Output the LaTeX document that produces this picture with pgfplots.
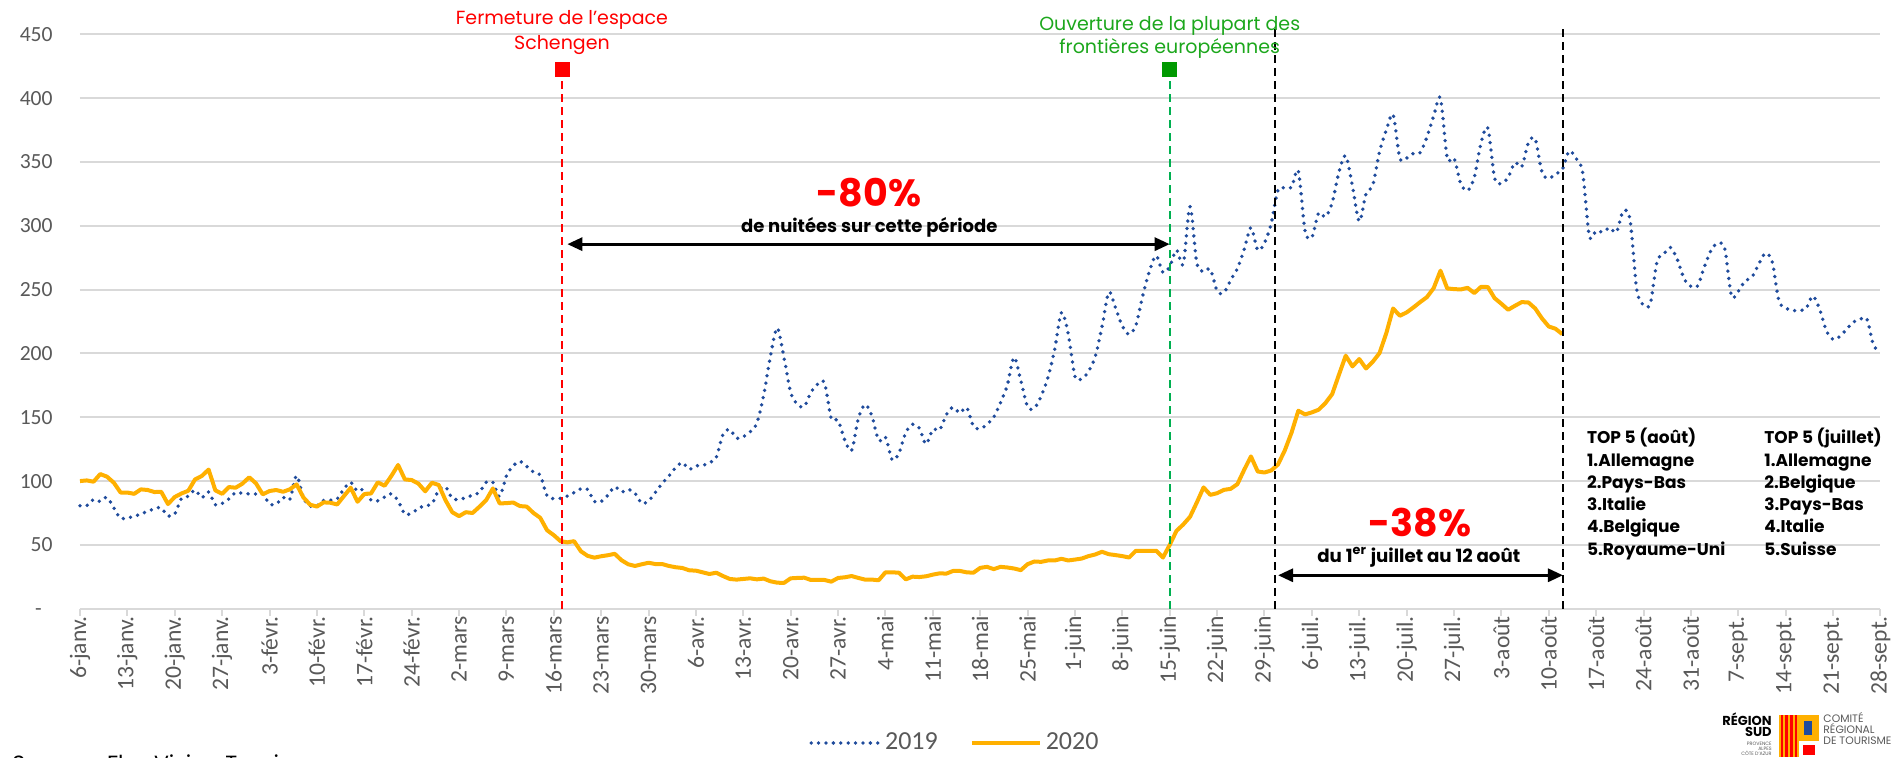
\documentclass[border=0pt]{standalone}
\usepackage{pgfplots}
\pgfplotsset{compat=1.18}
\usepackage{fontspec}
\setmainfont{Carlito}
\newfontfamily\anno{Poppins}
\usetikzlibrary{arrows.meta}
\definecolor{blue19}{HTML}{1F4B9C}
\definecolor{orange20}{HTML}{FFB000}
\definecolor{gridc}{HTML}{D9D9D9}
\definecolor{tickc}{HTML}{595959}
\definecolor{redA}{HTML}{FF0000}
\definecolor{greenT}{HTML}{1CA71C}
\definecolor{greenS}{HTML}{009900}
\definecolor{greenL}{HTML}{00B050}
\tikzset{topf/.style={anchor=base west, inner sep=0pt, font=\anno\bfseries\fontsize{8.5}{10}\selectfont}}
\begin{document}
\begin{tikzpicture}
\begin{axis}[
  at={(40pt,74.15pt)}, anchor=south west,
  scale only axis, width=900.2pt, height=287.2pt,
  xmin=0, xmax=266, ymin=0, ymax=450,
  clip=false,
  axis x line*=bottom, axis y line*=left,
  x axis line style={draw=gridc, line width=1pt},
  y axis line style={draw=none},
  ymajorgrids, grid style={draw=gridc, line width=1pt},
  tick align=outside, major tick length=3.5pt,
  xtick style={draw=gridc, line width=1pt},
  ytick style={draw=none},
  ytick={0,50,...,450},
  yticklabels={-\phantom{0},50,100,150,200,250,300,350,400,450},
  yticklabel style={font=\fontsize{10.8}{12}\selectfont, text=tickc, anchor=east, inner sep=0pt, xshift=-10pt},
  xtick={0,7,...,266},
  xticklabels={6-janv.,13-janv.,20-janv.,27-janv.,3-févr.,10-févr.,17-févr.,24-févr.,2-mars,9-mars,16-mars,23-mars,30-mars,6-avr.,13-avr.,20-avr.,27-avr.,4-mai,11-mai,18-mai,25-mai,1-juin,8-juin,15-juin,22-juin,29-juin,6-juil.,13-juil.,20-juil.,27-juil.,3-août,10-août,17-août,24-août,31-août,7-sept.,14-sept.,21-sept.,28-sept.},
  xticklabel style={font=\fontsize{11.8}{12}\selectfont, text=tickc, rotate=90, anchor=east, inner sep=0pt, yshift=0pt},
  legend style={at={(0.4865,-0.2338)}, anchor=center, draw=none, fill=none, legend columns=2,
    font=\fontsize{13}{15}\selectfont, text=tickc,
    /tikz/every even column/.append style={column sep=14pt}},
  legend image code/.code={\draw[#1] (0pt,0pt) -- (34pt,0pt);},
]
\addplot[blue19, line width=1.9pt, line cap=round, dash pattern=on 0pt off 3.7pt, smooth] coordinates {
(0,80.7)(1,80.7)(2,85.6)(3,84)(4,87.2)(5,79)(6,70.7)(7,71.5)(8,72)(9,74.5)(10,76)(11,78.5)(12,79)(13,72.6)(14,74.2)(15,86.5)(16,88)(17,93)(18,87)(19,91.5)(20,81.5)(21,82.5)(22,86)(23,91)(24,90.3)(25,90)(26,89.9)(27,90)(28,82)(29,82)(30,87.2)(31,85.6)(32,104.2)(33,87)(34,80.3)(35,80.5)(36,84.8)(37,85)(38,86)(39,94)(40,99)(41,92)(42,93.5)(43,85)
(44,84.5)(45,87.5)(46,90)(47,84.5)(48,74)(49,75)(50,78.5)(51,81)(52,82)(53,93)(54,95.5)(55,86.5)(56,85.7)(57,87)(58,89)(59,91)(60,99)(61,99)(62,88)(63,104)(64,112)(65,115.4)(66,111.5)(67,107)(68,104.5)(69,88.5)(70,86.2)(71,86.5)(72,88.2)(73,91)(74,94)(75,93.5)(76,84)(77,84)(78,89)(79,95.5)(80,91.5)(81,93.5)(82,90.5)(83,82.5)(84,84.5)(85,91)(86,98)(87,104)
(88,110.5)(89,114.5)(90,109.3)(91,112)(92,112.2)(93,114.5)(94,118.5)(95,136.5)(96,140.4)(97,133.5)(98,134.8)(99,138.5)(100,145.4)(101,167)(102,197.5)(103,220)(104,197)(105,169.4)(106,160)(107,158.4)(108,169.5)(109,176)(110,177)(111,149)(112,147.5)(113,132)(114,124)(115,149)(116,160)(117,151)(118,131.8)(119,134.5)(120,116.6)(121,122)(122,138)(123,144.5)(124,141.5)(125,129)(126,140.5)(127,140)(128,152)(129,157.8)(130,153.3)(131,157.6)
(132,143)(133,141)(134,144.5)(135,150)(136,161.5)(137,175)(138,197)(139,178.5)(140,158.4)(141,157)(142,166.5)(143,181)(144,203)(145,232)(146,215.5)(147,182)(148,180)(149,186)(150,197.5)(151,221)(152,248)(153,235.5)(154,221.5)(155,215)(156,222)(157,245)(158,264.5)(159,276.5)(160,263.5)(161,268)(162,281)(163,270.2)(164,315)(165,271)(166,264)(167,266)(168,249)(169,247.5)(170,257.5)(171,266.5)(172,281.5)(173,298.5)(174,281)(175,286.5)(176,302)(177,328)
(178,329.5)(179,330)(180,343)(181,295.6)(182,291)(183,310)(184,307)(185,318)(186,342)(187,355)(188,331)(189,303.5)(190,325)(191,332)(192,358)(193,375)(194,387)(195,353)(196,353)(197,356.7)(198,357.3)(199,369.5)(200,386)(201,400)(202,353)(203,353)(204,333)(205,327.5)(206,338)(207,365)(208,376.5)(209,337.3)(210,333)(211,338)(212,349.5)(213,346.2)(214,365)(215,368)(216,342)(217,337)(218,340.7)(219,344)(220,358.5)
(221,353)(222,342)(223,292)(224,296)(225,295)(226,298.5)(227,295)(228,311.5)(229,305)(230,250)(231,238)(232,239)(233,272)(234,278)(235,283)(236,273.5)(237,258.5)(238,252.5)(239,253)(240,268)(241,281)(242,286.5)(243,282)(244,245)(245,248.7)(246,256.8)(247,259.7)(248,269.7)(249,278.5)(250,272)(251,241.3)(252,235.6)(253,233.6)(254,233.8)(255,235)(256,245)(257,235)(258,218)(259,211)(260,213.2)(261,219)(262,224.5)(263,226.7)(264,227)(265,206)(266,203)
};
\addplot[orange20, line width=2pt, line join=round] coordinates {
(0,100)(1,100.5)(2,99.5)(3,105.5)(4,103.4)(5,98.7)(6,91)(7,91)(8,90)(9,93.5)(10,93)(11,91.4)(12,91.6)(13,82)(14,87.5)(15,90.3)(16,92.4)(17,101.3)(18,104)(19,109)(20,92.7)(21,90)(22,95.3)(23,94.8)(24,98)(25,103)(26,98.2)(27,89.6)(28,92.2)(29,93)(30,91.6)(31,93.5)(32,97.4)(33,87.2)(34,81.5)(35,80)(36,83.3)(37,83)(38,81.7)(39,88.3)(40,94.8)(41,83.8)(42,89.8)(43,90.3)(44,99)
(45,96.3)(46,104)(47,112.6)(48,101.3)(49,100.8)(50,98)(51,92)(52,98.7)(53,96.9)(54,85)(55,75.6)(56,72.5)(57,75.6)(58,75)(59,79.8)(60,85)(61,94.2)(62,82.5)(63,82.7)(64,83.2)(65,80.4)(66,80)(67,75)(68,71.2)(69,61.5)(70,57.6)(71,52.9)(72,52)(73,52.9)(74,45)(75,41.4)(76,40)(77,41.1)(78,41.9)(79,43)(80,38)(81,34.8)(82,33.5)(83,34.8)(84,36)(85,35)(86,35)(87,33.5)(88,32.5)
(89,31.9)(90,30.1)(91,29.8)(92,28.5)(93,27.2)(94,28.2)(95,25.6)(96,23.3)(97,22.8)(98,23.3)(99,23.8)(100,23)(101,23.6)(102,21.5)(103,20.4)(104,20.2)(105,23.8)(106,24.1)(107,24.3)(108,22.5)(109,22.5)(110,22.5)(111,21.2)(112,24.1)(113,24.6)(114,25.6)(115,24.1)(116,22.8)(117,22.8)(118,22.3)(119,28.5)(120,28.5)(121,28.2)(122,23)(123,25.1)(124,24.8)(125,25.4)(126,26.7)(127,27.7)(128,27.5)(129,29.6)(130,29.6)(131,28.5)(132,28.2)(133,32)
(134,32.8)(135,31)(136,32.8)(137,32.3)(138,31.5)(139,30.2)(140,34.9)(141,37)(142,36.7)(143,37.8)(144,37.8)(145,39.1)(146,37.8)(147,38.5)(148,39.3)(149,41.2)(150,42.5)(151,44.6)(152,42.7)(153,42)(154,41.2)(155,40.1)(156,45.4)(157,45.4)(158,45.4)(159,45.4)(160,40.1)(161,50)(162,61)(163,66)(164,72)(165,83.2)(166,95)(167,89.2)(168,90.5)(169,93.1)(170,93.9)(171,97.6)(172,108.8)(173,119.3)(174,107.5)(175,106.7)(176,108.3)(177,113)
(178,124)(179,138)(180,155.1)(181,152.2)(182,153.8)(183,155.9)(184,161.1)(185,168.1)(186,183.3)(187,198.2)(188,189.8)(189,195.6)(190,188.2)(191,193.5)(192,200.3)(193,215.9)(194,235.2)(195,229.5)(196,232.1)(197,236)(198,240.2)(199,244.1)(200,251.2)(201,264.8)(202,250.9)(203,250.4)(204,250.1)(205,251.4)(206,247.3)(207,252.2)(208,252)(209,243.3)(210,238.9)(211,234.2)(212,237.3)(213,240.2)(214,239.9)(215,235.2)(216,227.4)(217,221.1)(218,219.3)(219,215.1)
};
\legend{2019,2020}
% event lines
\draw[redA, line width=1pt, dash pattern=on 4pt off 2.5pt] (axis cs:71.2,0) -- (axis cs:71.2,417);
\draw[greenL, line width=1pt, dash pattern=on 4pt off 2.5pt] (axis cs:161,0) -- (axis cs:161,417);
\draw[black, line width=1pt, dash pattern=on 4pt off 2.5pt] (axis cs:176.5,0) -- (axis cs:176.5,458);
\draw[black, line width=1pt, dash pattern=on 4pt off 2.5pt] (axis cs:219.1,0) -- (axis cs:219.1,458);
\addplot[forget plot, only marks, mark=square*, mark size=3.5pt, redA] coordinates {(71.2,422.8)};
\addplot[forget plot, only marks, mark=square*, mark size=3.5pt, greenS] coordinates {(161,422.8)};
% texts top
\node[anchor=base, text=redA, font=\anno\fontsize{9.5}{11}\selectfont] at (axis cs:71.2,457.3) {Fermeture de l’espace};
\node[anchor=base, text=redA, font=\anno\fontsize{9.5}{11}\selectfont] at (axis cs:71.2,438.3) {Schengen};
\node[anchor=base, text=greenT, font=\anno\fontsize{9.5}{11}\selectfont] at (axis cs:161,453) {Ouverture de la plupart des};
\node[anchor=base, text=greenT, font=\anno\fontsize{9.5}{11}\selectfont] at (axis cs:161,435.2) {frontières européennes};
% arrows
\draw[line width=1.5pt, {Triangle[length=7.5pt,width=6.5pt]}-{Triangle[length=7.5pt,width=6.5pt]}] (axis cs:72,285.6) -- (axis cs:161,285.6);
\draw[line width=1.5pt, {Triangle[length=7.5pt,width=6.5pt]}-{Triangle[length=7.5pt,width=6.5pt]}] (axis cs:177,26.2) -- (axis cs:219.1,26.2);
\node[anchor=base, text=redA, font=\anno\bfseries\fontsize{19}{20}\selectfont] at (axis cs:116.6,315) {-80\%};
\node[anchor=base, font=\anno\bfseries\fontsize{9}{11}\selectfont] at (axis cs:116.6,294.9) {de nuitées sur cette période};
\node[anchor=base, text=redA, font=\anno\bfseries\fontsize{19}{20}\selectfont] at (axis cs:198,56.4) {-38\%};
\node[anchor=base, font=\anno\bfseries\fontsize{9.1}{11}\selectfont] at (axis cs:197.8,36.3) {du 1\textsuperscript{er} juillet au 12 août};
% top 5
\node[topf] at (axis cs:222.6,129.4) {TOP 5 (août)};
\node[topf] at (axis cs:222.6,111.7) {1.Allemagne};
\node[topf] at (axis cs:222.6,93.9) {2.Pays-Bas};
\node[topf] at (axis cs:222.6,76.7) {3.Italie};
\node[topf] at (axis cs:222.6,59.4) {4.Belgique};
\node[topf] at (axis cs:222.6,41.7) {5.Royaume-Uni};
\node[topf] at (axis cs:248.8,129.4) {TOP 5 (juillet)};
\node[topf] at (axis cs:248.8,111.7) {1.Allemagne};
\node[topf] at (axis cs:248.8,93.9) {2.Belgique};
\node[topf] at (axis cs:248.8,76.7) {3.Pays-Bas};
\node[topf] at (axis cs:248.8,59.4) {4.Italie};
\node[topf] at (axis cs:248.8,41.7) {5.Suisse};
\end{axis}
% footer source (cut at the bottom, as in the reference)
\node[anchor=base west, inner sep=0pt, font=\anno\fontsize{11}{12}\selectfont] at (6pt,-7.3pt) {Source : Flux Vision Tourisme};
% logo
\node[anchor=base east, inner sep=0pt, font=\anno\bfseries\fontsize{6.5}{7}\selectfont] at (886pt,16pt) {RÉGION};
\node[anchor=base east, inner sep=0pt, font=\anno\bfseries\fontsize{6.5}{7}\selectfont] at (886pt,10.2pt) {SUD};
\node[anchor=base east, inner sep=0pt, text=tickc, font=\anno\fontsize{2.4}{3}\selectfont] at (886pt,6pt) {PROVENCE};
\node[anchor=base east, inner sep=0pt, text=tickc, font=\anno\fontsize{2.4}{3}\selectfont] at (886pt,3.3pt) {ALPES};
\node[anchor=base east, inner sep=0pt, text=tickc, font=\anno\fontsize{2.4}{3}\selectfont] at (886pt,0.6pt) {CÔTE D’AZUR};
\fill[orange20] (889.5pt,0pt) rectangle (899.5pt,21pt);
\fill[redA] (890.3pt,0pt) rectangle (891.5pt,21pt);
\fill[redA] (892.7pt,0pt) rectangle (893.9pt,21pt);
\fill[redA] (895.1pt,0pt) rectangle (896.3pt,21pt);
\fill[redA] (897.5pt,0pt) rectangle (898.7pt,21pt);
\fill[orange20] (899.5pt,8pt) rectangle (909.5pt,21pt);
\fill[blue19] (902pt,11pt) rectangle (906pt,18pt);
\fill[white] (899.5pt,0pt) rectangle (909.5pt,8pt);
\fill[redA] (901.5pt,1pt) rectangle (907.5pt,6pt);
\node[anchor=base west, inner sep=0pt, text=tickc, font=\anno\fontsize{5.4}{6}\selectfont] at (911.5pt,17.2pt) {COMITÉ};
\node[anchor=base west, inner sep=0pt, text=tickc, font=\anno\fontsize{5.4}{6}\selectfont] at (911.5pt,11.8pt) {RÉGIONAL};
\node[anchor=base west, inner sep=0pt, text=tickc, font=\anno\fontsize{5.4}{6}\selectfont] at (911.5pt,6.5pt) {DE TOURISME};
\pgfresetboundingbox
\path[use as bounding box] (0,0) rectangle (946.5pt,378.5pt);
\end{tikzpicture}
\end{document}
